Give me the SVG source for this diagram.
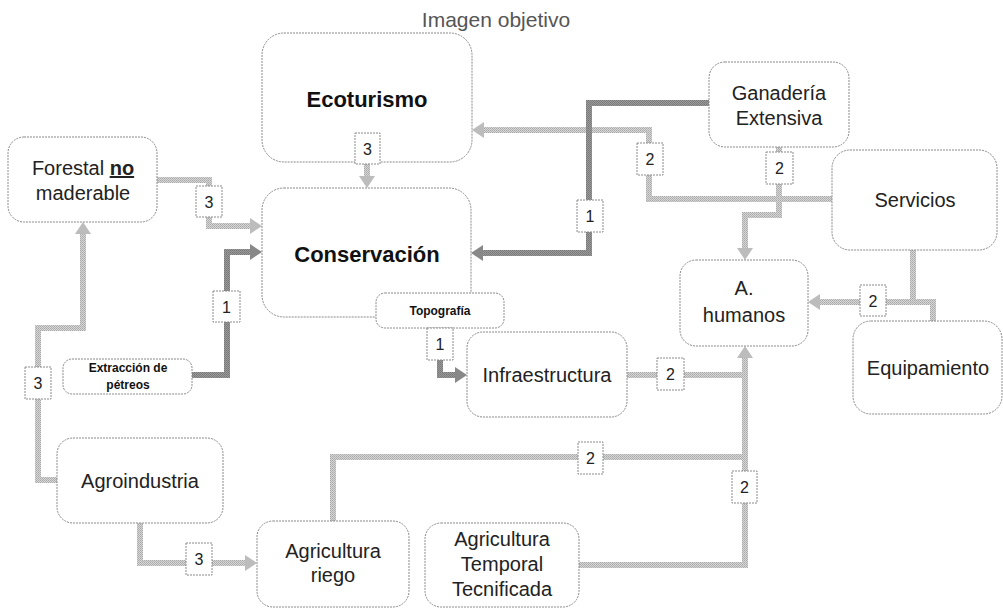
<svg xmlns="http://www.w3.org/2000/svg" width="1003" height="608" viewBox="0 0 1003 608">
<defs>
<pattern id="pl" width="2" height="2" patternUnits="userSpaceOnUse"><rect width="2" height="2" fill="#d6d6d6"/><rect width="1" height="1" fill="#a9a9a9"/><rect x="1" y="1" width="1" height="1" fill="#b4b4b4"/></pattern>
<pattern id="pd" width="2" height="2" patternUnits="userSpaceOnUse"><rect width="2" height="2" fill="#9a9a9a"/><rect width="1" height="1" fill="#777"/><rect x="1" y="1" width="1" height="1" fill="#7f7f7f"/></pattern>
<marker id="al" markerUnits="userSpaceOnUse" markerWidth="14" markerHeight="16" refX="2" refY="8" orient="auto"><path d="M0,0 L12,8 L0,16 z" fill="#bcbcbc"/></marker>
<marker id="ad" markerUnits="userSpaceOnUse" markerWidth="14" markerHeight="16" refX="2" refY="8" orient="auto"><path d="M0,0 L12,8 L0,16 z" fill="#888"/></marker>
</defs>
<style>
.n{fill:#fff;stroke:#8a8a8a;stroke-width:1;stroke-dasharray:2 1}
.lb{fill:#fff;stroke:#8a8a8a;stroke-width:1;stroke-dasharray:2 1}
.t{font-family:"Liberation Sans",Arial,sans-serif;font-size:20px;fill:#222;text-anchor:middle}
.b{font-weight:bold;font-size:22px;fill:#111}
.s{font-weight:bold;font-size:12px;fill:#111}
.k{font-family:"Liberation Sans",Arial,sans-serif;font-size:16px;fill:#222;text-anchor:middle}
.cl{fill:none;stroke:url(#pl);stroke-width:6}
.cd{fill:none;stroke:url(#pd);stroke-width:6}
</style>
<text x="496" y="27" font-family="Liberation Sans, Arial, sans-serif" font-size="21" fill="#555" text-anchor="middle">Imagen objetivo</text>
<g id="connectors">
<path class="cl" d="M367,160 V178" marker-end="url(#al)"/>
<path class="cl" d="M157,180 H209 V226 H252" marker-end="url(#al)"/>
<path class="cd" d="M192,375 H227 V252 H252" marker-end="url(#ad)"/>
<path class="cl" d="M832,199 H649 V130 H482" marker-end="url(#al)"/>
<path class="cd" d="M709,103 H589 V253 H481" marker-end="url(#ad)"/>
<path class="cl" d="M779,147 V215 H745 V250" marker-end="url(#al)"/>
<path class="cl" d="M913,250 V302"/>
<path class="cl" d="M933,321 V302 H818" marker-end="url(#al)"/>
<path class="cd" d="M440,328 V375 H457" marker-end="url(#ad)"/>
<path class="cl" d="M627,375 H745"/>
<path class="cl" d="M745,565 V356" marker-end="url(#al)"/>
<path class="cl" d="M333,521 V457 H745"/>
<path class="cl" d="M579,565 H748"/>
<path class="cl" d="M57,480 H38 V328 H83 V232" marker-end="url(#al)"/>
<path class="cl" d="M140,523 V563 H247" marker-end="url(#al)"/>
</g>
<g id="ecoturismo"><rect class="n" x="262" y="33" width="210" height="129" rx="22"/><text class="t b" x="367" y="107">Ecoturismo</text></g>
<g id="forestal"><rect class="n" x="8" y="137" width="149" height="85" rx="16"/><text class="t" x="83" y="175">Forestal <tspan font-weight="bold" text-decoration="underline">no</tspan></text><text class="t" x="83" y="200">maderable</text></g>
<g id="conservacion"><rect class="n" x="262" y="188" width="209" height="129" rx="22"/><text class="t b" x="367" y="262">Conservación</text></g>
<g id="topografia"><rect class="n" x="376" y="293" width="128" height="35" rx="9"/><text class="t s" x="440" y="315">Topografía</text></g>
<g id="extraccion"><rect class="n" x="63" y="359" width="129" height="35" rx="9"/><text class="t s" x="128" y="372">Extracción de</text><text class="t s" x="128" y="389">pétreos</text></g>
<g id="ganaderia"><rect class="n" x="709" y="62" width="140" height="85" rx="16"/><text class="t" x="779" y="100">Ganadería</text><text class="t" x="779" y="125">Extensiva</text></g>
<g id="servicios"><rect class="n" x="832" y="150" width="165" height="100" rx="18"/><text class="t" x="915" y="207">Servicios</text></g>
<g id="ahumanos"><rect class="n" x="680" y="260" width="128" height="86" rx="16"/><text class="t" x="744" y="295">A.</text><text class="t" x="744" y="322">humanos</text></g>
<g id="infraestructura"><rect class="n" x="467" y="332" width="160" height="85" rx="16"/><text class="t" x="547" y="382">Infraestructura</text></g>
<g id="equipamiento"><rect class="n" x="853" y="321" width="149" height="93" rx="18"/><text class="t" x="928" y="375">Equipamiento</text></g>
<g id="agroindustria"><rect class="n" x="57" y="438" width="166" height="85" rx="16"/><text class="t" x="140" y="488">Agroindustria</text></g>
<g id="agriculturariego"><rect class="n" x="257" y="521" width="152" height="86" rx="16"/><text class="t" x="333" y="558">Agricultura</text><text class="t" x="333" y="582">riego</text></g>
<g id="agriculturatemporal"><rect class="n" x="425" y="523" width="154" height="84" rx="16"/><text class="t" x="502" y="546">Agricultura</text><text class="t" x="502" y="571">Temporal</text><text class="t" x="502" y="596">Tecnificada</text></g>
<g id="labels">
<rect class="lb" x="355" y="133" width="25" height="31"/><text class="k" x="367.5" y="155">3</text>
<rect class="lb" x="196" y="186" width="26" height="31"/><text class="k" x="209" y="208">3</text>
<rect class="lb" x="213" y="291" width="27" height="31"/><text class="k" x="226.5" y="313">1</text>
<rect class="lb" x="577" y="200" width="26" height="32"/><text class="k" x="590" y="222">1</text>
<rect class="lb" x="637" y="143" width="26" height="32"/><text class="k" x="650" y="165">2</text>
<rect class="lb" x="766" y="152" width="27" height="32"/><text class="k" x="779.5" y="174">2</text>
<rect class="lb" x="860" y="285" width="26" height="31"/><text class="k" x="873" y="307">2</text>
<rect class="lb" x="657" y="358" width="27" height="32"/><text class="k" x="670.5" y="380">2</text>
<rect class="lb" x="427" y="328" width="26" height="32"/><text class="k" x="440" y="350">1</text>
<rect class="lb" x="25" y="367" width="26" height="32"/><text class="k" x="38" y="389">3</text>
<rect class="lb" x="186" y="543" width="26" height="32"/><text class="k" x="199" y="565">3</text>
<rect class="lb" x="578" y="442" width="25" height="32"/><text class="k" x="590.5" y="464">2</text>
<rect class="lb" x="732" y="471" width="25" height="32"/><text class="k" x="744.5" y="493">2</text>
</g>
</svg>
